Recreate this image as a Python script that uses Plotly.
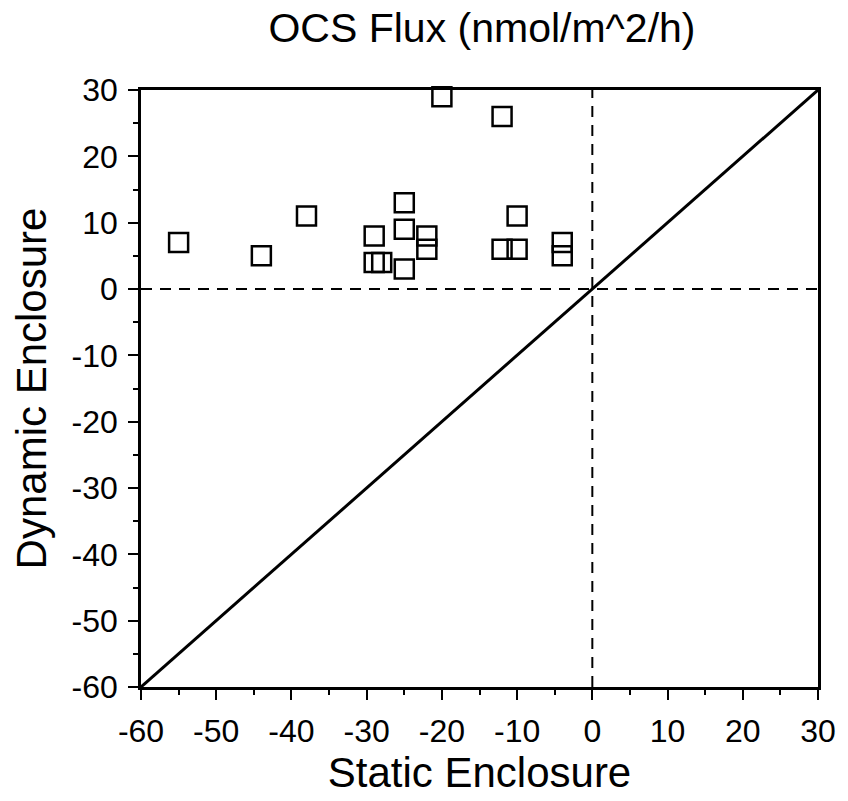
import plotly.graph_objects as go

# Data
static_x = [-55, -44, -38, -29, -29, -28, -25, -25, -25, -22, -22, -20, -12, -10, -12, -10, -4, -4]
dynamic_y = [7, 5, 11, 8, 4, 4, 13, 9, 3, 8, 6, 29, 26, 11, 6, 6, 7, 5]

diag = [-60, 30]
zero_line = [0, 0]
axis_span = [-60, 30]
tick_vals = [-60, -50, -40, -30, -20, -10, 0, 10, 20, 30]
tick_text = ["-60", "-50", "-40", "-30", "-20", "-10", "0", "10", "20", "30"]

FONT = "Liberation Sans, Arial, Helvetica, sans-serif"

fig = go.Figure()

# 1:1 line
fig.add_trace(go.Scatter(x=diag, y=diag, mode="lines",
                         line=dict(color="black", width=3), showlegend=False, hoverinfo="skip"))
# zero reference lines (dashed)
fig.add_trace(go.Scatter(x=axis_span, y=zero_line, mode="lines",
                         line=dict(color="black", width=2, dash="11px,8px"), showlegend=False, hoverinfo="skip"))
fig.add_trace(go.Scatter(x=zero_line, y=axis_span, mode="lines",
                         line=dict(color="black", width=2, dash="11px,8px"), showlegend=False, hoverinfo="skip"))
# data points
fig.add_trace(go.Scatter(x=static_x, y=dynamic_y, mode="markers", cliponaxis=False,
                         marker=dict(symbol="square-open", size=19, color="black",
                                     line=dict(color="black", width=2.5)),
                         showlegend=False))

axis_common = dict(
    range=axis_span, tickvals=tick_vals, ticktext=tick_text, ticks="outside", ticklen=10, tickwidth=2,
    tickcolor="black", showline=True, linecolor="black", linewidth=2.5, mirror=True,
    showgrid=False, zeroline=False,
    tickfont=dict(family=FONT, size=32, color="black"),
    minor=dict(dtick=5, tick0=0, ticks="outside", ticklen=5, tickwidth=2, tickcolor="black", showgrid=False),
)

fig.update_layout(
    width=848, height=801,
    margin=dict(l=141, r=25, t=90, b=110),
    paper_bgcolor="white", plot_bgcolor="white",
    font=dict(family=FONT, color="black"),
    title=dict(text="OCS Flux (nmol/m^2/h)", font=dict(family=FONT, size=41, color="black"),
               x=482/848, xanchor="center", y=1-28/801, yanchor="middle", xref="container", yref="container"),
    xaxis=dict(**axis_common, ticklabelstandoff=4,
               title=dict(text="Static Enclosure", font=dict(family=FONT, size=42, color="black"), standoff=10)),
    yaxis=dict(**axis_common, ticklabelstandoff=4,
               title=dict(text="Dynamic Enclosure", font=dict(family=FONT, size=42, color="black"), standoff=12)),
)

fig.write_html("out.html")
